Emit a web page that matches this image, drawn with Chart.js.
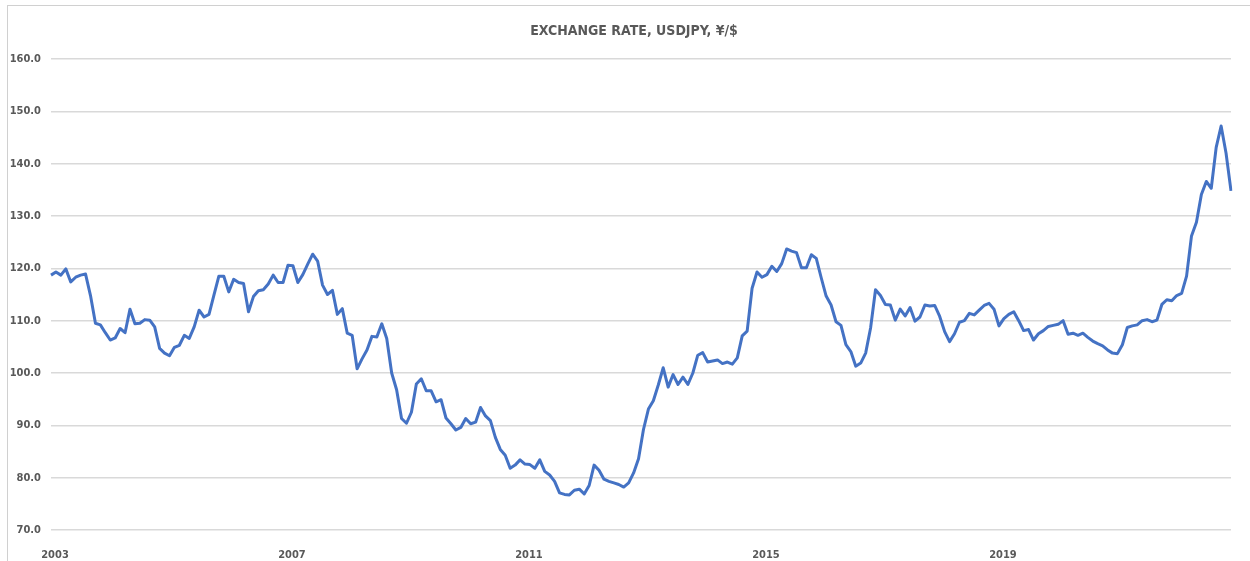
<!DOCTYPE html>
<html>
<head>
<meta charset="utf-8">
<script src="https://cdn.jsdelivr.net/npm/chart.js@4/dist/chart.umd.min.js"></script>
<style>
  html, body { margin: 0; padding: 0; background: #fff; overflow: hidden; }
  #frame {
    position: absolute; left: 7px; top: 5px; width: 1300px; height: 600px;
    border: 1.5px solid #d0d0d0; box-sizing: border-box;
  }
  #chart { position: absolute; left: 0; top: 0; }
  #title {
    position: absolute; left: 434px; width: 400px; top: 21px; text-align: center;
    font: bold 14px 'Liberation Sans Narrow', 'DejaVu Sans Condensed', sans-serif;
    color: #595959; line-height: 18px;
  }
</style>
</head>
<body>
<div id="frame"></div>
<canvas id="chart" width="1250" height="561"></canvas>
<div id="title">EXCHANGE RATE, USDJPY, ¥/$</div>
<script>
// monthly average USDJPY, Jan 2003 - Dec 2022
const years = [2003, 2004, 2005, 2006, 2007, 2008, 2009, 2010, 2011, 2012,
               2013, 2014, 2015, 2016, 2017, 2018, 2019, 2020, 2021, 2022];
const tickLabels = ["2003", "2007", "2011", "2015", "2019"];
const usdjpy = [
  118.7, 119.3, 118.7, 119.9, 117.4, 118.3, 118.7, 118.9, 114.8, 109.5, 109.2, 107.7,
  106.3, 106.7, 108.5, 107.7, 112.2, 109.4, 109.5, 110.2, 110.1, 108.8, 104.7, 103.8,
  103.3, 104.9, 105.3, 107.2, 106.6, 108.8, 112.0, 110.7, 111.2, 114.9, 118.5, 118.5,
  115.5, 117.9, 117.3, 117.1, 111.7, 114.6, 115.7, 115.9, 117.0, 118.7, 117.3, 117.3,
  120.6, 120.5, 117.3, 118.8, 120.8, 122.7, 121.4, 116.8, 115.0, 115.8, 111.2, 112.3,
  107.6, 107.2, 100.8, 102.7, 104.4, 107.0, 106.9, 109.4, 106.6, 100.0, 96.8, 91.3,
  90.4, 92.5, 97.9, 98.9, 96.6, 96.6, 94.5, 94.9, 91.4, 90.3, 89.1, 89.6,
  91.3, 90.3, 90.6, 93.4, 91.8, 90.9, 87.7, 85.4, 84.3, 81.8, 82.4, 83.4,
  82.6, 82.5, 81.8, 83.4, 81.2, 80.5, 79.3, 77.1, 76.8, 76.7, 77.6, 77.8,
  76.9, 78.5, 82.4, 81.4, 79.7, 79.3, 79.0, 78.7, 78.2, 79.0, 80.9, 83.6,
  89.2, 93.1, 94.7, 97.7, 101.0, 97.3, 99.7, 97.8, 99.2, 97.8, 100.0, 103.4,
  103.9, 102.1, 102.3, 102.5, 101.8, 102.1, 101.7, 102.9, 107.1, 108.0, 116.2, 119.3,
  118.3, 118.8, 120.4, 119.4, 120.9, 123.7, 123.3, 123.0, 120.1, 120.1, 122.6, 121.9,
  118.2, 114.7, 113.0, 109.8, 109.1, 105.4, 104.1, 101.3, 101.9, 103.8, 108.6, 115.9,
  114.8, 113.1, 113.0, 110.1, 112.2, 110.9, 112.5, 109.9, 110.7, 113.0, 112.8, 112.9,
  110.8, 107.9, 106.0, 107.5, 109.7, 110.0, 111.4, 111.1, 112.0, 112.9, 113.3, 112.2,
  109.0, 110.4, 111.2, 111.7, 110.0, 108.1, 108.3, 106.3, 107.5, 108.1, 108.9, 109.1,
  109.3, 110.0, 107.4, 107.6, 107.2, 107.6, 106.8, 106.1, 105.6, 105.2, 104.4, 103.8,
  103.7, 105.4, 108.7, 109.0, 109.2, 110.0, 110.2, 109.8, 110.1, 113.1, 114.0, 113.8,
  114.8, 115.2, 118.5, 126.2, 128.8, 134.1, 136.6, 135.3, 143.1, 147.2, 142.0, 134.8
];

const categories = [];
years.forEach(function (y) {
  for (let m = 1; m <= 12; m++) {
    categories.push(y + "-" + String(m).padStart(2, "0"));
  }
});

const axisFont = { family: "'Liberation Sans Narrow', 'DejaVu Sans Condensed', sans-serif", size: 11, weight: "bold" };

const ctx = document.getElementById("chart").getContext("2d");
new Chart(ctx, {
  type: "line",
  data: {
    labels: categories,
    datasets: [{
      label: "USDJPY",
      data: usdjpy,
      borderColor: "#4472C4",
      borderWidth: 3,
      pointRadius: 0,
      tension: 0,
      borderJoinStyle: "round",
      fill: false
    }]
  },
  options: {
    responsive: false,
    devicePixelRatio: 1,
    animation: false,
    layout: { padding: { left: 0, right: 19, top: 59, bottom: 0 } },
    plugins: {
      legend: { display: false },
      tooltip: { enabled: false }
    },
    scales: {
      x: {
        grid: { display: false },
        border: { display: false },
        ticks: {
          autoSkip: false,
          maxRotation: 0,
          minRotation: 0,
          padding: 11,
          labelOffset: 4,
          color: "#595959",
          font: axisFont,
          callback: function (val, i) {
            const lab = categories[i];
            return lab.endsWith("-01") && tickLabels.includes(lab.slice(0, 4)) ? lab.slice(0, 4) : "";
          }
        },
        afterFit: function (scale) { scale.height = 31; }
      },
      y: {
        min: 70,
        max: 160,
        grid: { color: "#d9d9d9", lineWidth: 1.5, drawTicks: false },
        border: { display: false },
        ticks: {
          stepSize: 10,
          padding: 10,
          color: "#595959",
          font: axisFont,
          callback: function (v) { return v.toFixed(1); }
        },
        afterFit: function (scale) { scale.width = 51; }
      }
    }
  }
});
</script>
</body>
</html>
